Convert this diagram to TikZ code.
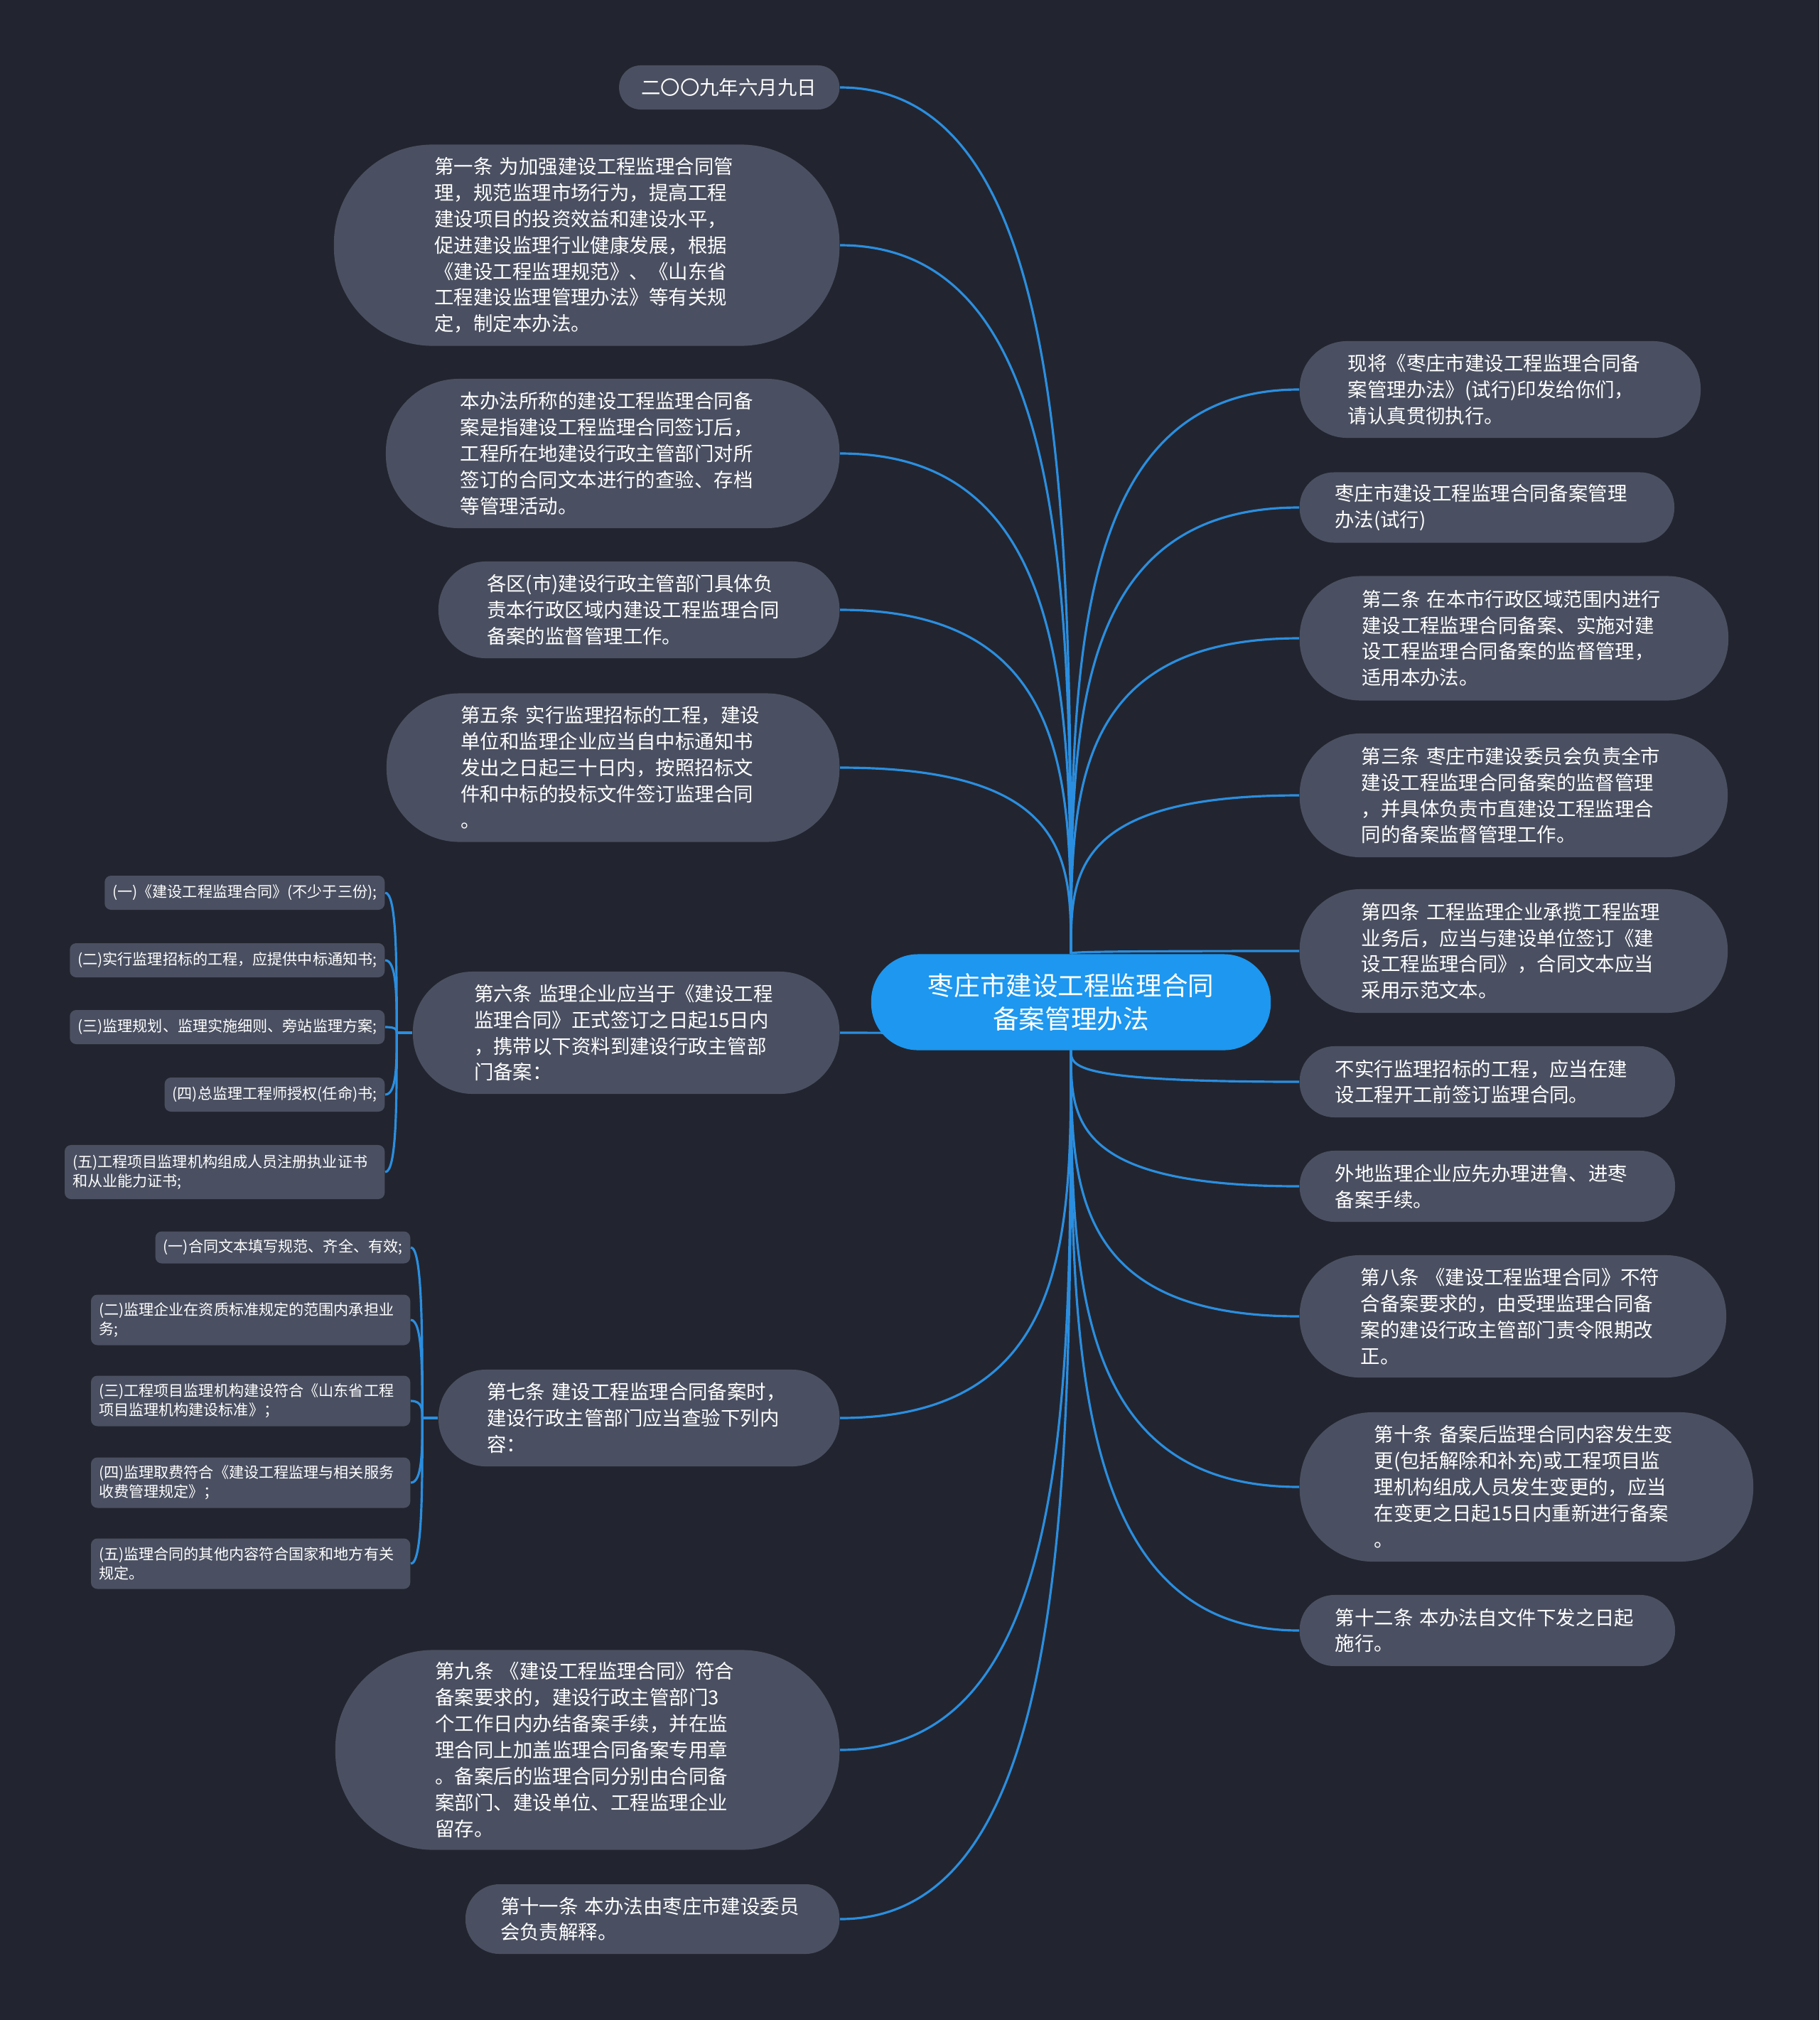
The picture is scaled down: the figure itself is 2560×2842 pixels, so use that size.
\documentclass[tikz,border=0pt]{standalone}
\usepackage{fontspec}
\newfontfamily\cjk{Noto Sans CJK SC}
\usepackage{xcolor}
\usepackage{tikz}
\usetikzlibrary{calc}

\definecolor{bgcol}{HTML}{22252F}
\definecolor{boxcol}{HTML}{4A5061}
\definecolor{rootcol}{HTML}{1D97EF}
\definecolor{linkcol}{HTML}{2B8EDF}

\pgfdeclarelayer{back}
\pgfdeclarelayer{wires}
\pgfsetlayers{back,wires,main}

\tikzset{
    root/.style={rectangle, rounded corners=0.66cm, fill=rootcol, text=white, inner xsep=0.675cm, inner ysep=0pt,
        minimum height=1.35cm, text width=4.27cm, align=center, font=\cjk\fontsize{10.4}{13.4}\selectfont},
    topic/.style={rectangle, rounded corners=0.49*#1, fill=boxcol, text=white, inner xsep=0.5*#1, inner ysep=0pt,
        minimum height=#1, text width=4.28cm, align=left, font=\cjk\fontsize{7.8}{10.5}\selectfont},
    sub/.style={rectangle, rounded corners=0.09cm, fill=boxcol, text=white, inner xsep=0.11cm, inner ysep=0pt,
        minimum height=#1, align=left, font=\cjk\fontsize{6}{7.7}\selectfont},
    link/.style={draw=linkcol, line width=0.9pt}
}

\begin{document}
\begin{tikzpicture}[x=0.01cm, y=-0.01cm]
    \useasboundingbox (0,0) rectangle (2560,2842);
    \begin{pgfonlayer}{back}
        \fill[bgcol] (0,0) rectangle (2560,2842);
    \end{pgfonlayer}

    \node[root] (ctr) at (1507,1410) {枣庄市建设工程监理合同\\备案管理办法};

    \node[topic=0.62cm, text width=2.48cm, anchor=east] (date) at (1182,123) {二〇〇九年六月九日};
    \node[topic=2.83cm, anchor=east] (art1) at (1182,345) {第一条 为加强建设工程监理合同管\\理，规范监理市场行为，提高工程\\建设项目的投资效益和建设水平，\\促进建设监理行业健康发展，根据\\《建设工程监理规范》、《山东省\\工程建设监理管理办法》等有关规\\定，制定本办法。};
    \node[topic=2.10cm, anchor=east] (scope) at (1182,638) {本办法所称的建设工程监理合同备\\案是指建设工程监理合同签订后，\\工程所在地建设行政主管部门对所\\签订的合同文本进行的查验、存档\\等管理活动。};
    \node[topic=1.36cm, anchor=east] (dist) at (1182,858) {各区(市)建设行政主管部门具体负\\责本行政区域内建设工程监理合同\\备案的监督管理工作。};
    \node[topic=2.09cm, anchor=east] (art5) at (1182,1080) {第五条 实行监理招标的工程，建设\\单位和监理企业应当自中标通知书\\发出之日起三十日内，按照招标文\\件和中标的投标文件签订监理合同\\。};
    \node[topic=1.72cm, anchor=east] (art6) at (1182,1453) {第六条 监理企业应当于《建设工程\\监理合同》正式签订之日起15日内\\，携带以下资料到建设行政主管部\\门备案：};
    \node[topic=1.36cm, anchor=east] (art7) at (1182,1995) {第七条 建设工程监理合同备案时，\\建设行政主管部门应当查验下列内\\容：};
    \node[topic=2.81cm, anchor=east] (art9) at (1182,2462) {第九条 《建设工程监理合同》符合\\备案要求的，建设行政主管部门3\\个工作日内办结备案手续，并在监\\理合同上加盖监理合同备案专用章\\。备案后的监理合同分别由合同备\\案部门、建设单位、工程监理企业\\留存。};
    \node[topic=0.98cm, anchor=east] (art11) at (1182,2700) {第十一条 本办法由枣庄市建设委员\\会负责解释。};

    \node[topic=1.36cm, anchor=west] (issue) at (1828,548) {现将《枣庄市建设工程监理合同备\\案管理办法》(试行)印发给你们，\\请认真贯彻执行。};
    \node[topic=0.99cm, anchor=west] (title) at (1828,714) {枣庄市建设工程监理合同备案管理\\办法(试行)};
    \node[topic=1.75cm, anchor=west] (art2) at (1828,898) {第二条 在本市行政区域范围内进行\\建设工程监理合同备案、实施对建\\设工程监理合同备案的监督管理，\\适用本办法。};
    \node[topic=1.74cm, anchor=west] (art3) at (1828,1119) {第三条 枣庄市建设委员会负责全市\\建设工程监理合同备案的监督管理\\，并具体负责市直建设工程监理合\\同的备案监督管理工作。};
    \node[topic=1.74cm, anchor=west] (art4) at (1828,1338) {第四条 工程监理企业承揽工程监理\\业务后，应当与建设单位签订《建\\设工程监理合同》，合同文本应当\\采用示范文本。};
    \node[topic=1.00cm, anchor=west] (nobid) at (1828,1522) {不实行监理招标的工程，应当在建\\设工程开工前签订监理合同。};
    \node[topic=1.00cm, anchor=west] (outside) at (1828,1669) {外地监理企业应先办理进鲁、进枣\\备案手续。};
    \node[topic=1.72cm, anchor=west] (art8) at (1828,1852) {第八条 《建设工程监理合同》不符\\合备案要求的，由受理监理合同备\\案的建设行政主管部门责令限期改\\正。};
    \node[topic=2.10cm, anchor=west] (art10) at (1828,2092) {第十条 备案后监理合同内容发生变\\更(包括解除和补充)或工程项目监\\理机构组成人员发生变更的，应当\\在变更之日起15日内重新进行备案\\。};
    \node[topic=1.00cm, anchor=west] (art12) at (1828,2294) {第十二条 本办法自文件下发之日起\\施行。};

    \node[sub=0.48cm, anchor=east] (art6a) at (542,1256) {(一)《建设工程监理合同》(不少于三份);};
    \node[sub=0.48cm, anchor=east] (art6b) at (542,1351) {(二)实行监理招标的工程，应提供中标通知书;};
    \node[sub=0.48cm, anchor=east] (art6c) at (542,1445) {(三)监理规划、监理实施细则、旁站监理方案;};
    \node[sub=0.48cm, anchor=east] (art6d) at (542,1540) {(四)总监理工程师授权(任命)书;};
    \node[sub=0.76cm, text width=4.28cm, anchor=east] (art6e) at (542,1649) {(五)工程项目监理机构组成人员注册执业证书\\和从业能力证书;};

    \node[sub=0.45cm, anchor=east] (art7a) at (578,1755) {(一)合同文本填写规范、齐全、有效;};
    \node[sub=0.71cm, text width=4.27cm, anchor=east] (art7b) at (578,1857) {(二)监理企业在资质标准规定的范围内承担业\\务;};
    \node[sub=0.71cm, text width=4.27cm, anchor=east] (art7c) at (578,1971) {(三)工程项目监理机构建设符合《山东省工程\\项目监理机构建设标准》；};
    \node[sub=0.71cm, text width=4.27cm, anchor=east] (art7d) at (578,2086) {(四)监理取费符合《建设工程监理与相关服务\\收费管理规定》；};
    \node[sub=0.71cm, text width=4.27cm, anchor=east] (art7e) at (578,2200) {(五)监理合同的其他内容符合国家和地方有关\\规定。};

    \begin{pgfonlayer}{wires}
        \foreach \n/\s/\e in {date/north/east, art1/north/east, scope/north/east, dist/north/east, art5/north/east,
            art6/south/east, art7/south/east, art9/south/east, art11/south/east,
            issue/north/west, title/north/west, art2/north/west, art3/north/west, art4/north/west,
            nobid/south/west, outside/south/west, art8/south/west, art10/south/west, art12/south/west}
            \draw[link] (ctr.\s) .. controls ($(ctr.\s)!0.5!(ctr.\s |- \n.\e)$) and (ctr.\s |- \n.\e) .. (\n.\e);

        \draw[link] (art6.west) -- ++(-22,0) coordinate (sp6);
        \draw[link] (art7.west) -- ++(-22,0) coordinate (sp7);
        \foreach \g in {6,7} {
            \foreach \i in {a,b,c,d,e}
                \draw[link] (sp\g) .. controls ($(sp\g)!0.5!(sp\g |- art\g\i.east)$) and (sp\g |- art\g\i.east) .. (art\g\i.east);
        }
    \end{pgfonlayer}
\end{tikzpicture}
\end{document}
